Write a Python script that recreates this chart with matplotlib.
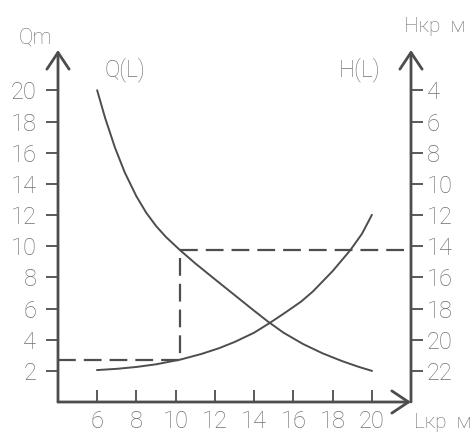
import matplotlib
matplotlib.use("Agg")
import matplotlib.pyplot as plt

# curve readings (L in metres)
q_L = [6.0, 6.4, 6.9, 7.4, 8.0, 8.5, 9.0, 9.5, 10.23, 11.0, 12.0, 13.0, 14.0, 14.72,
       15.5, 16.5, 17.5, 18.5, 19.3, 20.0]
q_val = [20.0, 18.25, 16.35, 14.75, 13.2, 12.15, 11.3, 10.6, 9.74, 8.9, 7.88, 6.87, 5.86, 5.15,
         4.45, 3.72, 3.12, 2.62, 2.27, 2.0]
h_L = [6.0, 7.0, 8.0, 9.0, 10.23, 11.3, 12.2, 13.0, 14.0, 14.78, 15.6, 16.4, 17.0,
       18.0, 18.9, 19.5, 20.0]
h_val = [21.95, 21.87, 21.75, 21.58, 21.28, 20.92, 20.55, 20.15, 19.55, 18.94, 18.25,
         17.55, 16.9, 15.6, 14.26, 13.2, 12.0]

q_ticks = [2, 4, 6, 8, 10, 12, 14, 16, 18, 20]
h_ticks = [4, 6, 8, 10, 12, 14, 16, 18, 20, 22]
l_ticks = [6, 8, 10, 12, 14, 16, 18, 20]

# working point
L_w = 10.23
Q_w = 9.74
Q_low = 2.72

ink = "#4d4d4d"
txt = "#707070"
plt.rcParams['font.family'] = ['Roboto', 'DejaVu Sans']
plt.rcParams['font.weight'] = 'light'

fig = plt.figure(figsize=(4.76, 4.34), dpi=100)
ax = fig.add_axes([58/476, 32/434, 353/476, 352/434])
ax.set_xlim(4, 22)
ax.set_ylim(0, 22.6)
ax2 = ax.twinx()
ax2.set_ylim(24, 24 - 22.6)

for a in (ax, ax2):
    for s in a.spines.values():
        s.set_visible(False)
    a.patch.set_visible(False)

ax.plot(q_L, q_val, color=ink, lw=1.4)
ax2.plot(h_L, h_val, color=ink, lw=1.4)

dash = dict(color=ink, lw=1.6, dashes=(8, 3.6))
ax.plot([4, L_w, L_w, 22], [Q_low, Q_low, Q_w, Q_w], **dash)

# axes with arrows
arr = dict(arrowstyle='->,head_length=1.2,head_width=0.8', lw=2, color=ink,
           shrinkA=0, shrinkB=0, mutation_scale=10)
ax.annotate('', xy=(0, 1), xytext=(0, 0), xycoords='axes fraction', arrowprops=arr)
ax.annotate('', xy=(1, 1), xytext=(1, 0), xycoords='axes fraction', arrowprops=arr)
ax.annotate('', xy=(1, 0), xytext=(0, 0), xycoords='axes fraction', arrowprops=arr)

ax.set_xticks(l_ticks)
ax.set_yticks(q_ticks)
ax2.set_yticks(h_ticks)
ax.tick_params(axis='x', direction='in', length=8.5, width=1.3, color=ink,
               labelcolor=txt, labelsize=17, pad=6)
ax.tick_params(axis='y', direction='out', length=8.5, width=1.3, color=ink,
               labelcolor=txt, labelsize=17, pad=7)
ax2.tick_params(axis='y', direction='out', length=8.5, width=1.3, color=ink,
                labelcolor=txt, labelsize=17, pad=3)

fig.text(35/476, 1 - 38/434, 'Qm', color=txt, fontsize=15.5, ha='center', va='center')
fig.text(125/476, 1 - 70/434, 'Q(L)', color=txt, fontsize=16.5, ha='center', va='center')
fig.text(360/476, 1 - 70/434, 'H(L)', color=txt, fontsize=16.5, ha='center', va='center')
fig.text(435/476, 1 - 26/434, 'Нкр  м', color=txt, fontsize=15, ha='center', va='center')
fig.text(443/476, 1 - 422/434, 'Lкр  м', color=txt, fontsize=15, ha='center', va='center')

fig.savefig('out.png', dpi=100)
